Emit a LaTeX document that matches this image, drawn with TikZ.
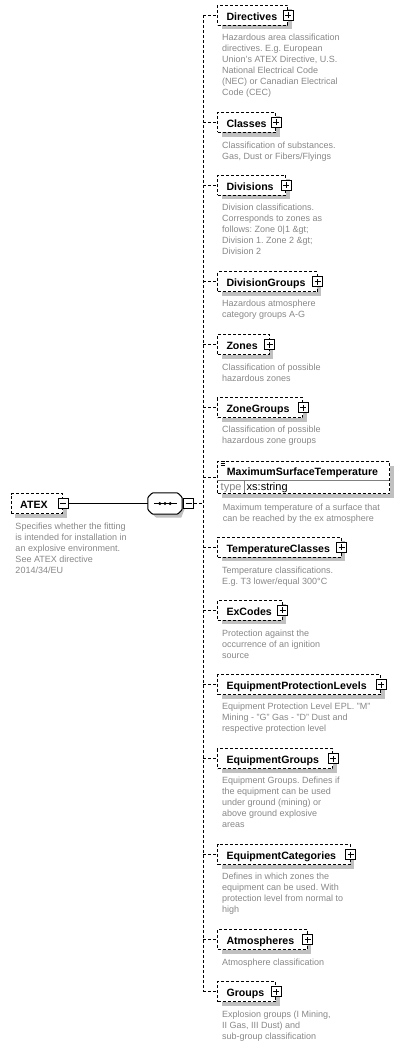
\documentclass[tikz,border=0pt]{standalone}
\usepackage{fontspec}
\setmainfont{Liberation Sans}
\usetikzlibrary{shadows}
\definecolor{dgray}{RGB}{135,135,135}
\definecolor{sgray}{RGB}{192,192,192}
\definecolor{lgray}{RGB}{128,128,128}
\begin{document}
\frenchspacing
\begin{tikzpicture}[x=1pt,y=-1pt,
  dsh/.style={dash pattern=on 3pt off 2pt},
  conn/.style={line width=1pt, dsh},
  shad/.style={drop shadow={shadow xshift=4pt, shadow yshift=-4pt, fill=sgray, opacity=1}},
  elem/.style={draw, line width=1pt, dsh, fill=white, anchor=west, minimum height=20pt,
    inner xsep=9pt, inner ysep=0pt, text height=10pt, text depth=0pt, align=left,
    font=\fontsize{10.6}{12}\selectfont\bfseries, shad},
  plusbox/.style={draw, solid, line width=1pt, fill=white, minimum size=10pt, inner sep=0pt,
    path picture={\draw[line width=1pt] ([xshift=-3pt]path picture bounding box.center) -- ([xshift=3pt]path picture bounding box.center)
      ([yshift=-3pt]path picture bounding box.center) -- ([yshift=3pt]path picture bounding box.center);}},
  minusbox/.style={draw, solid, line width=1pt, fill=white, minimum size=10pt, inner sep=0pt,
    path picture={\draw[line width=1pt] ([xshift=-3pt]path picture bounding box.center) -- ([xshift=3pt]path picture bounding box.center);}},
  desc/.style={anchor=north west, inner sep=0pt, align=left, text=dgray,
    font=\fontsize{9}{11}\selectfont\frenchspacing, execute at begin node={\rule{0pt}{7pt}}},
]
\useasboundingbox (0,0) rectangle (404,1046);

% root element
\node[elem, text width=33.3pt] (atex) at (10.7,503.5) {ATEX};
\node[minusbox] (atexm) at (atex.east) {};
\node[desc] (atexd) at (15.3,523) {Specifies whether the fitting\\is intended for installation in\\an explosive environment.\\See ATEX directive\\2014/34/EU};

% sequence compositor
\node[minimum width=34pt, minimum height=21pt, inner sep=0pt] (comp) at (165,503.5) {};
\fill[sgray] ([xshift=8.5pt,yshift=-3.5pt]comp.north west) -- ([xshift=-1pt,yshift=-3.5pt]comp.north east)
  -- ([xshift=3.5pt,yshift=-8pt]comp.north east) -- ([xshift=3.5pt,yshift=8pt]comp.south east)
  -- ([xshift=-1pt,yshift=-3.5pt]comp.south east) -- ([xshift=8.5pt,yshift=-3.5pt]comp.south west)
  -- ([xshift=3.5pt,yshift=1pt]comp.south west) -- ([xshift=3.5pt,yshift=-8pt]comp.north west) -- cycle;
\draw[line width=1pt, fill=white, rounded corners=1pt] ([xshift=4.5pt]comp.north west) -- ([xshift=-4.5pt]comp.north east)
  -- ([yshift=-4.5pt]comp.north east) -- ([yshift=4.5pt]comp.south east)
  -- ([xshift=-4.5pt]comp.south east) -- ([xshift=4.5pt]comp.south west)
  -- ([yshift=4.5pt]comp.south west) -- ([yshift=-4.5pt]comp.north west) -- cycle;
\draw[line width=1pt] ([xshift=6pt]comp.center -| comp.west) -- ([xshift=-5pt]comp.center -| comp.east);
\foreach \dx in {-5.2,0,5.2} \fill ([xshift=\dx pt]comp.center) circle (1.7pt);
\node[minusbox] (compm) at (188.7,503.7) {};

\draw[line width=1pt] (atexm.east) -- (atexm.east -| comp.west);

% children
\node[elem, text width=52pt] (directives) at (217,15.3) {Directives};
\node[plusbox] at (directives.east) {};
\node[desc] at (222,33.7) {Hazardous area classification\\directives. E.g. European\\Union’s ATEX Directive, U.S.\\National Electrical Code\\(NEC) or Canadian Electrical\\Code (CEC)};

\node[elem, text width=40.3pt] (classes) at (217,122.5) {Classes};
\node[plusbox] at (classes.east) {};
\node[desc] at (222,141.3) {Classification of substances.\\Gas, Dust or Fibers/Flyings};

\node[elem, text width=50pt] (divisions) at (217,185.2) {Divisions};
\node[plusbox] at (divisions.east) {};
\node[desc] at (222,204) {Division classifications.\\Corresponds to zones as\\follows: Zone 0|1 \&gt;\\Division 1. Zone 2 \&gt;\\Division 2};

\node[elem, text width=81.7pt] (divisiongroups) at (217,281.9) {DivisionGroups};
\node[plusbox] at (divisiongroups.east) {};
\node[desc] at (222,300) {Hazardous atmosphere\\category groups A-G};

\node[elem, text width=33.7pt] (zones) at (217,344.5) {Zones};
\node[plusbox] at (zones.east) {};
\node[desc] at (222,363.3) {Classification of possible\\hazardous zones};

\node[elem, text width=67pt] (zonegroups) at (217,407.5) {ZoneGroups};
\node[plusbox] at (zonegroups.east) {};
\node[desc] at (222,426) {Classification of possible\\hazardous zone groups};

\node[draw, line width=1pt, dsh, fill=white, minimum width=172.3pt, minimum height=32.3pt, inner sep=0pt,
  anchor=north west, shad] (mst) at (217,461) {};
\draw[line width=1pt, lgray] (217,480) -- (389.3,480) (244,480) -- (244,493.3);
\draw[line width=0.8pt] (220.5,461.5) -- (224.5,461.5) (220.5,463.5) -- (224.5,463.5) (220.5,465.5) -- (224.5,465.5);
\node[anchor=base west, inner sep=0pt, font=\fontsize{10.6}{12}\selectfont\bfseries] (mstname) at (226.7,475) {MaximumSurfaceTemperature};
\node[anchor=base west, inner sep=0pt, text=dgray, font=\fontsize{11}{12}\selectfont] (msttype) at (220.5,490.5) {type};
\node[anchor=base west, inner sep=0pt, font=\fontsize{11}{12}\selectfont] (mstval) at (246.5,490.5) {xs:string};
\node[desc] at (222.7,503.6) {Maximum temperature of a surface that\\can be reached by the ex atmosphere};

\node[elem, text width=105.7pt] (temperatureclasses) at (217,547) {TemperatureClasses};
\node[plusbox] at (temperatureclasses.east) {};
\node[desc] at (222,566.3) {Temperature classifications.\\E.g. T3 lower/equal 300°C};

\node[elem, text width=46.7pt] (excodes) at (217,610.3) {ExCodes};
\node[plusbox] at (excodes.east) {};
\node[desc] at (222,629.3) {Protection against the\\occurrence of an ignition\\source};

\node[elem, text width=145pt] (epl) at (217,684.5) {EquipmentProtectionLevels};
\node[plusbox] at (epl.east) {};
\node[desc] at (222,703) {Equipment Protection Level EPL. "M"\\Mining - "G" Gas - "D" Dust and\\respective protection level};

\node[elem, text width=97pt] (equipmentgroups) at (217,758.8) {EquipmentGroups};
\node[plusbox] at (equipmentgroups.east) {};
\node[desc] at (222,776.3) {Equipment Groups. Defines if\\the equipment can be used\\under ground (mining) or\\above ground explosive\\areas};

\node[elem, text width=114.7pt] (equipmentcategories) at (217,854.5) {EquipmentCategories};
\node[plusbox] at (equipmentcategories.east) {};
\node[desc] at (222,873) {Defines in which zones the\\equipment can be used. With\\protection level from normal to\\high};

\node[elem, text width=71.7pt] (atmospheres) at (217,939.5) {Atmospheres};
\node[plusbox] at (atmospheres.east) {};
\node[desc] at (222,958) {Atmosphere classification};

\node[elem, text width=40.3pt] (groups) at (217,991.5) {Groups};
\node[plusbox] at (groups.east) {};
\node[desc] at (222,1010.3) {Explosion groups (I Mining,\\II Gas, III Dust) and\\sub-group classification};

% connectors
\coordinate (trunk) at (203.3,504);
\draw[conn] (compm.east) -- (compm.east -| trunk);
\draw[conn] (directives.west -| trunk) -- (groups.west -| trunk);
\foreach \n in {directives,classes,divisions,divisiongroups,zones,zonegroups,mst,temperatureclasses,excodes,epl,equipmentgroups,equipmentcategories,atmospheres,groups}
  \draw[conn] (\n.west -| trunk) -- (\n.west);
\end{tikzpicture}
\end{document}
